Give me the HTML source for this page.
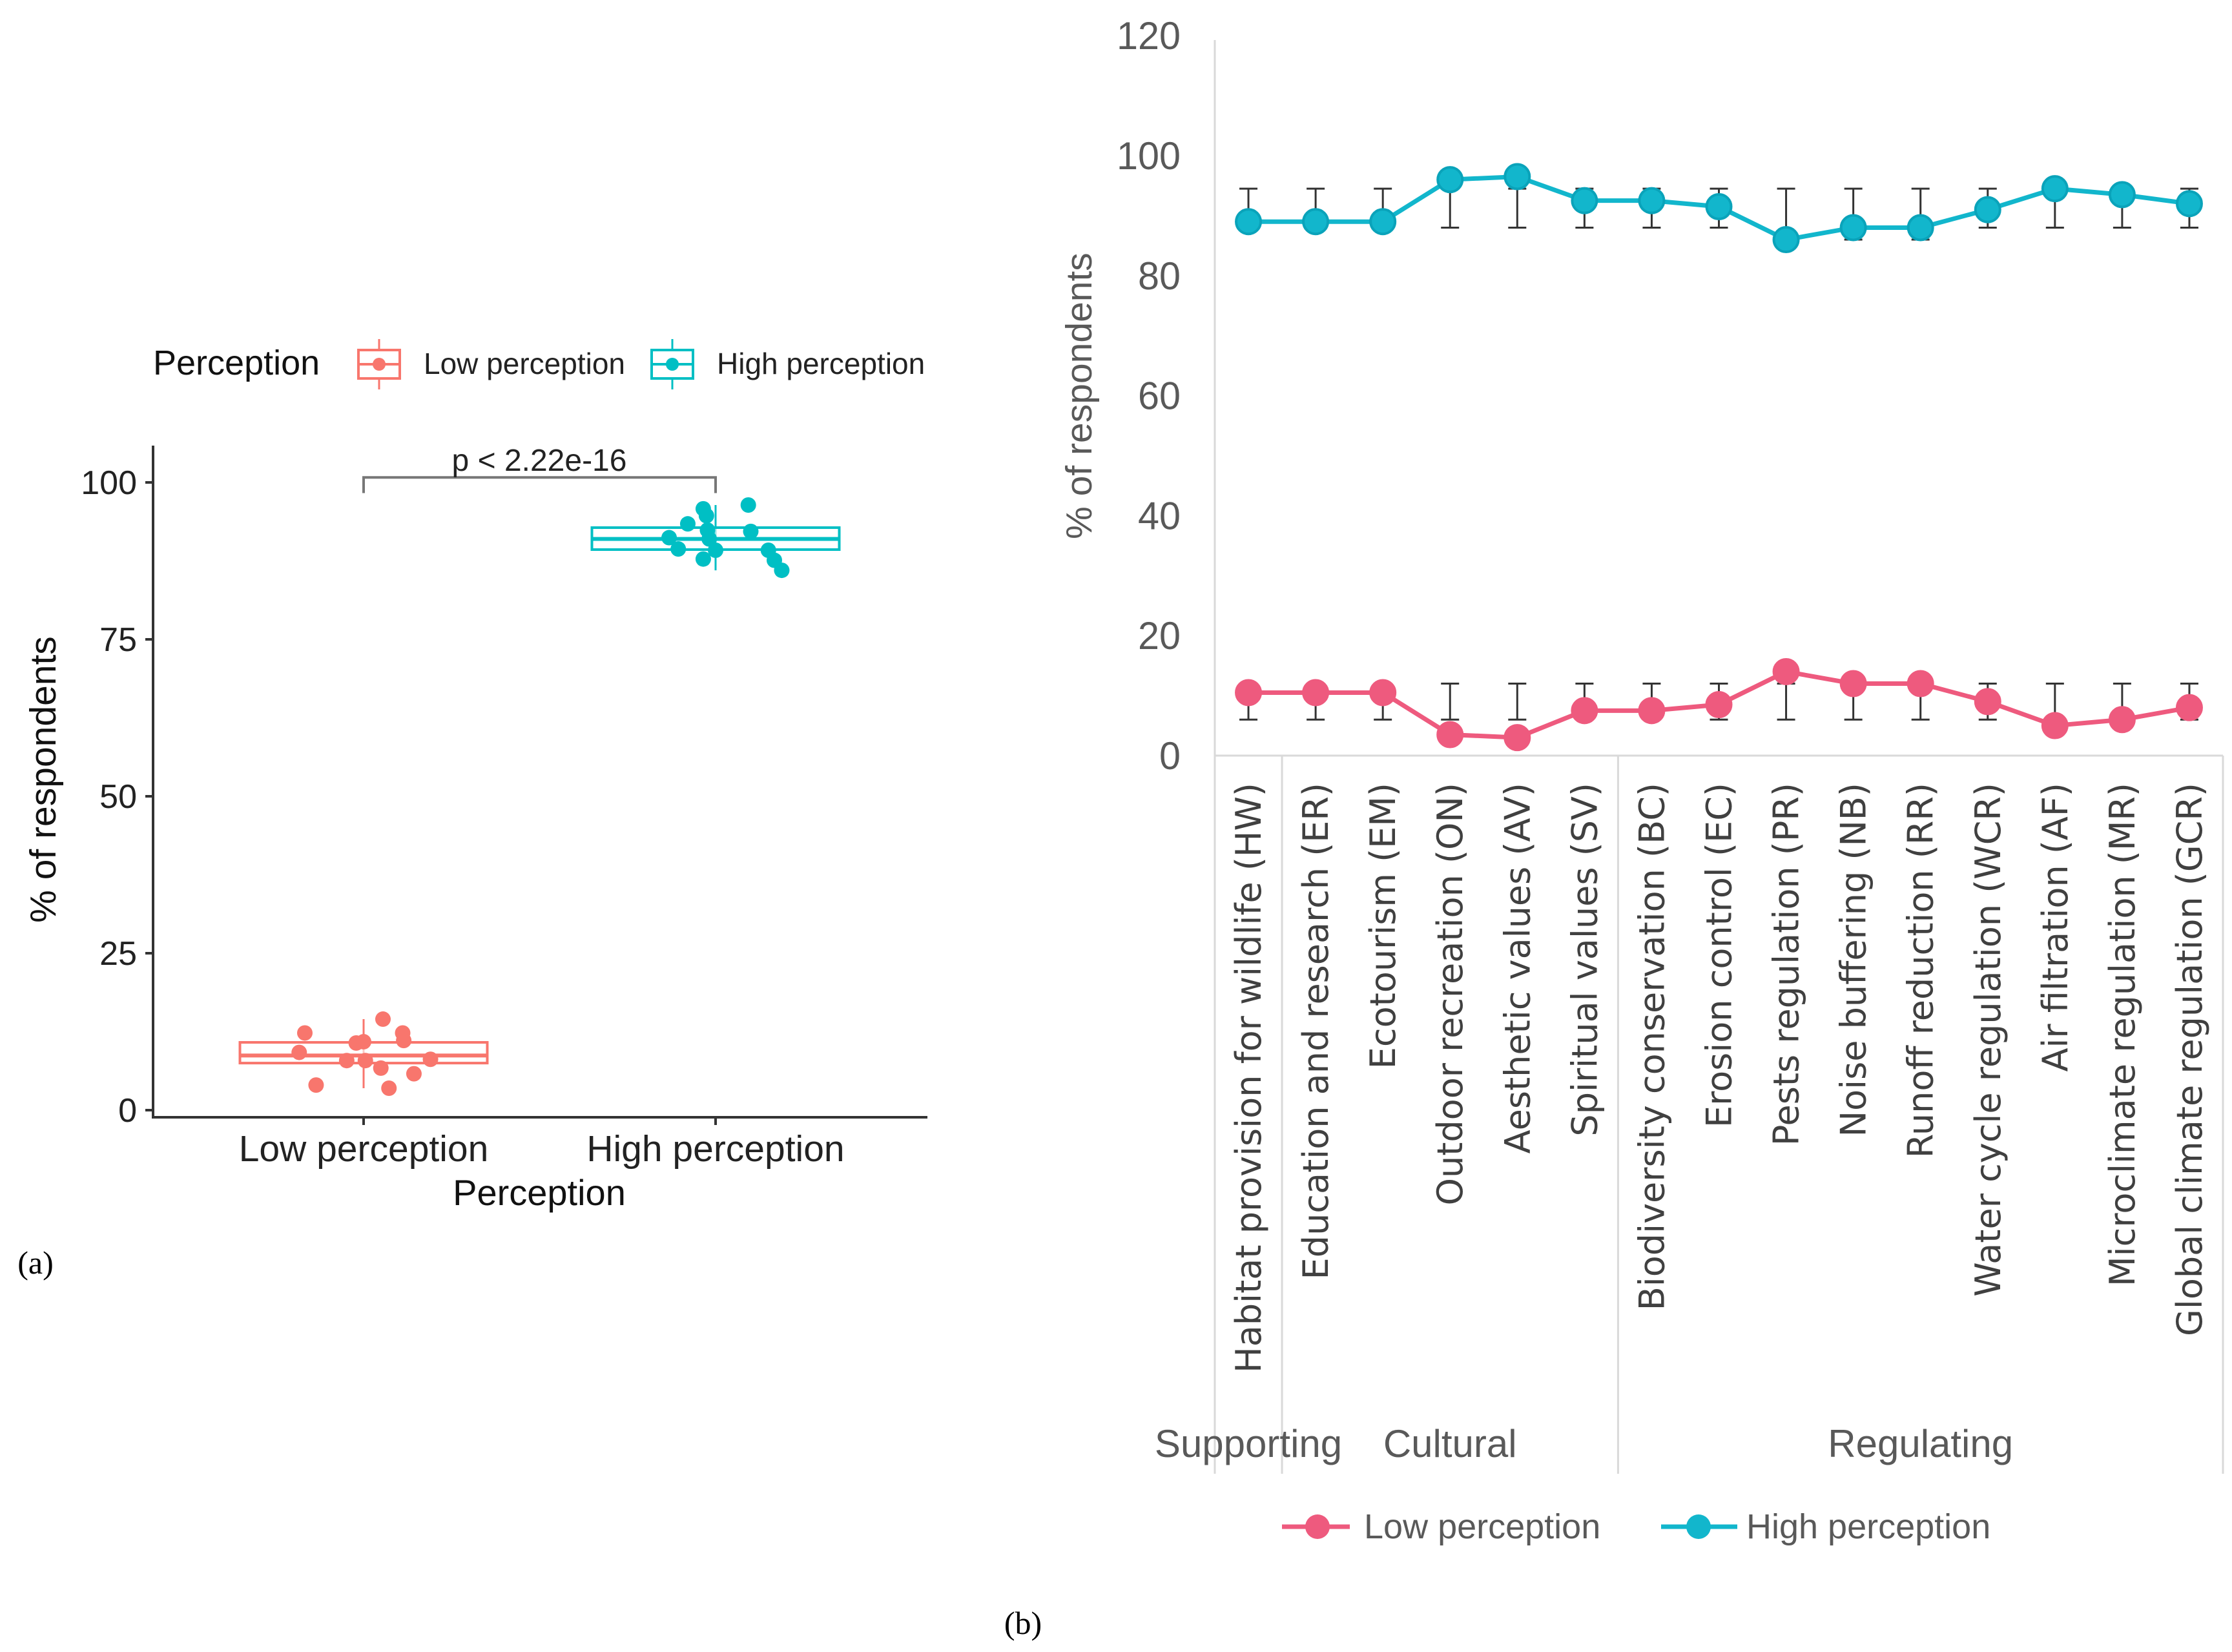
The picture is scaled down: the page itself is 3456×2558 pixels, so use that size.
<!DOCTYPE html>
<html><head><meta charset="utf-8"><style>
html,body{margin:0;padding:0;background:#fff;}
svg{display:block;}
text{font-family:"Liberation Sans",Arial,sans-serif;}
</style></head><body>
<svg id="chart" width="3456" height="2558" viewBox="0 0 3456 2558" xmlns="http://www.w3.org/2000/svg">
<g id="pa"></g>
<g id="pb"></g>
<text x="55" y="1972" font-size="50" fill="#000" text-anchor="middle" style="font-family:'Liberation Serif',serif">(a)</text>
<text x="1584" y="2530" font-size="50" fill="#000" text-anchor="middle" style="font-family:'Liberation Serif',serif">(b)</text>
</svg>
<script>
// ---------- Panel A data ----------
const aCategories = ["Low perception", "High perception"];
const aLowValues = [12.3, 9.2, 4.0, 7.9, 10.7, 10.9, 7.9, 6.7, 14.5, 3.5, 12.3, 11.1, 5.8, 8.1];
const aLowJitter = [-0.167, -0.183, -0.135, -0.048, -0.021, 0, 0.005, 0.049, 0.055, 0.072, 0.111, 0.114, 0.143, 0.19];
const aHighValues = [91.2, 89.4, 93.4, 87.8, 95.8, 94.7, 92.4, 91.0, 89.2, 96.4, 92.2, 89.2, 87.6, 86.0];
const aHighJitter = [-0.132, -0.106, -0.079, -0.035, -0.035, -0.026, -0.023, -0.018, 0, 0.093, 0.100, 0.150, 0.167, 0.188];
const aBoxLow = [3.5, 7.5, 8.7, 10.8, 14.5];
const aBoxHigh = [86, 89.3, 91, 92.8, 96.4];
const aTicks = [0, 25, 50, 75, 100];
const aPText = "p < 2.22e-16";

// ---------- Panel B data ----------
const bCategories = ["Habitat provision for wildlife (HW)","Education and research (ER)","Ecotourism (EM)","Outdoor recreation (ON)","Aesthetic values (AV)","Spiritual values (SV)","Biodiversity conservation (BC)","Erosion control (EC)","Pests regulation (PR)","Noise buffering (NB)","Runoff reduction (RR)","Water cycle regulation (WCR)","Air filtration (AF)","Microclimate regulation (MR)","Global climate regulation (GCR)"];
const bHigh = [89, 89, 89, 96, 96.5, 92.5, 92.5, 91.5, 86, 88, 88, 91, 94.5, 93.5, 92];
const bHighErrLo = [88, 88, 88, 88, 88, 88, 88, 88, 86, 86, 86, 88, 88, 88, 88];
const bHighErrHi = [94.5, 94.5, 94.5, 94.5, 94.5, 94.5, 94.5, 94.5, 94.5, 94.5, 94.5, 94.5, 94.5, 94.5, 94.5];
const bLow = [10.5, 10.5, 10.5, 3.5, 3, 7.5, 7.5, 8.5, 14, 12, 12, 9, 5, 6, 8];
const bLowErrLo = [6, 6, 6, 6, 6, 6, 6, 6, 6, 6, 6, 6, 6, 6, 6];
const bLowErrHi = [12, 12, 12, 12, 12, 12, 12, 12, 12, 12, 12, 12, 12, 12, 12];
const bTicks = [0, 20, 40, 60, 80, 100, 120];
const bGroups = ["Supporting", "Cultural", "Regulating"];
const bGroupStart = [0, 1, 6];
const bGroupEnd = [0, 5, 14];

const NS = "http://www.w3.org/2000/svg";
function mk(parent, tag, attrs, txt) {
  const e = document.createElementNS(NS, tag);
  for (const k in attrs) e.setAttribute(k, attrs[k]);
  if (txt !== undefined) e.textContent = txt;
  parent.appendChild(e);
  return e;
}

// ================= PANEL A =================
(function(){
  const g = document.getElementById('pa');
  const LOWC = "#F8766D", HIGHC = "#00BFC4";
  const y = v => 1719 - v * 9.72;
  const xc = i => 563 + i * 545;
  const bw = 383;
  let e = mk(g, 'line', {x1:237, y1:690, x2:237, y2:1730, stroke:"#333", "stroke-width":4});
   
  e = mk(g, 'line', {x1:235, y1:1730, x2:1436, y2:1730, stroke:"#333", "stroke-width":4});
   
  aTicks.forEach(t => {
    const tk = mk(g, 'line', {x1:225, y1:y(t), x2:237, y2:y(t), stroke:"#333", "stroke-width":4});
     
    const tl = mk(g, 'text', {x:212, y:y(t)+18, "font-size":52, fill:"#222", "text-anchor":"end"}, String(t));
     
  });
  aCategories.forEach((c, i) => {
    const tk = mk(g, 'line', {x1:xc(i), y1:1730, x2:xc(i), y2:1742, stroke:"#333", "stroke-width":4});
     
    const tl = mk(g, 'text', {x:xc(i), y:1798, "font-size":57, fill:"#222", "text-anchor":"middle"}, c);
     
  });
  e = mk(g, 'text', {x:835, y:1866, "font-size":56, fill:"#111", "text-anchor":"middle"}, "Perception");
   
  e = mk(g, 'text', {x:0, y:0, "font-size":57, fill:"#111", "text-anchor":"middle", transform:"translate(86,1207) rotate(-90)"}, "% of respondents");
   
  [[aBoxLow, LOWC], [aBoxHigh, HIGHC]].forEach(([b, col], i) => {
    const bx = mk(g, 'g', {});
     
    mk(bx, 'line', {x1:xc(i), y1:y(b[0]), x2:xc(i), y2:y(b[4]), stroke:col, "stroke-width":3});
    mk(bx, 'rect', {x:xc(i)-bw/2, y:y(b[3]), width:bw, height:y(b[1])-y(b[3]), fill:"#fff", "fill-opacity":0.6, stroke:col, "stroke-width":4});
    mk(bx, 'line', {x1:xc(i)-bw/2, y1:y(b[2]), x2:xc(i)+bw/2, y2:y(b[2]), stroke:col, "stroke-width":6});
  });
  [[aLowValues, aLowJitter, LOWC], [aHighValues, aHighJitter, HIGHC]].forEach(([vals, jit, col], i) => {
    vals.forEach((v, k) => {
      const p = mk(g, 'circle', {cx:xc(i) + jit[k]*545, cy:y(v), r:12, fill:col});
       
    });
  });
  const by = y(100.8), bt = y(98.3);
  e = mk(g, 'path', {d:`M${xc(0)} ${bt} V${by} H${xc(1)} V${bt}`, fill:"none", stroke:"#777", "stroke-width":4});
   
  e = mk(g, 'text', {x:835, y:by-10, "font-size":48, fill:"#222", "text-anchor":"middle"}, aPText);
   
  const lg = mk(g, 'g', {});
   
  mk(lg, 'text', {x:237, y:580, "font-size":54, fill:"#111"}, "Perception");
  [[LOWC, 587, 656, "Low perception"], [HIGHC, 1041, 1110, "High perception"]].forEach(([col, cx, tx, lab], i) => {
    const it = mk(lg, 'g', {});
     
    mk(it, 'line', {x1:cx, y1:525, x2:cx, y2:603, stroke:col, "stroke-width":3});
    mk(it, 'rect', {x:cx-32, y:542, width:64, height:44, fill:"#fff", stroke:col, "stroke-width":4});
    mk(it, 'line', {x1:cx-32, y1:564, x2:cx+32, y2:564, stroke:col, "stroke-width":4});
    mk(it, 'circle', {cx:cx, cy:564, r:10, fill:col});
    mk(it, 'text', {x:tx, y:579, "font-size":46, fill:"#222"}, lab);
  });
})();

// ================= PANEL B =================
(function(){
  const g = document.getElementById('pb');
  const LOWC = "#EE5A7E", HIGHC = "#12B6CC";
  const L = 1881, R = 3442, B = 1170;
  const y = v => B - v * 9.29;
  const step = (R - L) / bCategories.length;
  const xc = i => L + step * (i + 0.5);
  let e = mk(g, 'line', {x1:L, y1:62, x2:L, y2:B, stroke:"#d9d9d9", "stroke-width":3});
   
  e = mk(g, 'line', {x1:L, y1:B, x2:R, y2:B, stroke:"#d9d9d9", "stroke-width":3});
   
  bTicks.forEach(t => {
    const s = String(t);
    const tl = mk(g, 'text', {x:1828, y:y(t)+21, "font-size":60, fill:"#595959", "text-anchor":"end", "textLength":s.length*33, "lengthAdjust":"spacingAndGlyphs"}, s);
     
  });
  e = mk(g, 'text', {x:0, y:0, "font-size":57, fill:"#595959", "text-anchor":"middle", transform:"translate(1690,613) rotate(-90)"}, "% of respondents");
   
  const seps = [bGroupStart[0], bGroupStart[1], bGroupStart[2], bGroupEnd[2]+1];
  seps.forEach(s => {
    const ln = mk(g, 'line', {x1:L + s*step, y1:B, x2:L + s*step, y2:2282, stroke:"#d9d9d9", "stroke-width":3});
     
  });
  bCategories.forEach((c, i) => {
    const tl = mk(g, 'text', {x:0, y:0, "font-size":54, fill:"#404040", "text-anchor":"end", transform:`translate(${xc(i)+19},1212) rotate(-90)`, style:"font-family:'DejaVu Sans',sans-serif"}, c);
     
  });
  bGroups.forEach((gname, k) => {
    const cx = (xc(bGroupStart[k]) + xc(bGroupEnd[k])) / 2;
    const tl = mk(g, 'text', {x:cx, y:2256, "font-size":60, fill:"#595959", "text-anchor":"middle"}, gname);
     
  });
  function errs(lo, hi, name) {
    lo.forEach((v, i) => {
      const eg = mk(g, 'g', {stroke:"#333", "stroke-width":3});
       
      mk(eg, 'line', {x1:xc(i), y1:y(v), x2:xc(i), y2:y(hi[i])});
      mk(eg, 'line', {x1:xc(i)-14, y1:y(v), x2:xc(i)+14, y2:y(v)});
      mk(eg, 'line', {x1:xc(i)-14, y1:y(hi[i]), x2:xc(i)+14, y2:y(hi[i])});
    });
  }
  errs(bHighErrLo, bHighErrHi, 'error-bar-high');
  errs(bLowErrLo, bLowErrHi, 'error-bar-low');
  function series(vals, col, name, ring) {
    const pts = vals.map((v, i) => `${xc(i)},${y(v)}`).join(' ');
    const pl = mk(g, 'polyline', {points:pts, fill:"none", stroke:col, "stroke-width":7});
     
    vals.forEach((v, i) => {
      const c = mk(g, 'circle', {cx:xc(i), cy:y(v), r:19, fill:col, stroke:ring, "stroke-width":4});
       
    });
  }
  series(bHigh, HIGHC, 'high-perception', "#0aa3ba");
  series(bLow, LOWC, 'low-perception', LOWC);
  const lg = mk(g, 'g', {});
   
  [[LOWC, 1985, 2090, 2040, 2112, "Low perception"], [HIGHC, 2572, 2690, 2630, 2704, "High perception"]].forEach(([col, x1, x2, cx, tx, lab], i) => {
    const it = mk(lg, 'g', {});
     
    mk(it, 'line', {x1:x1, y1:2364, x2:x2, y2:2364, stroke:col, "stroke-width":7});
    mk(it, 'circle', {cx:cx, cy:2364, r:19, fill:col});
    mk(it, 'text', {x:tx, y:2382, "font-size":54, fill:"#595959"}, lab);
  });
})();
</script>
</body></html>
